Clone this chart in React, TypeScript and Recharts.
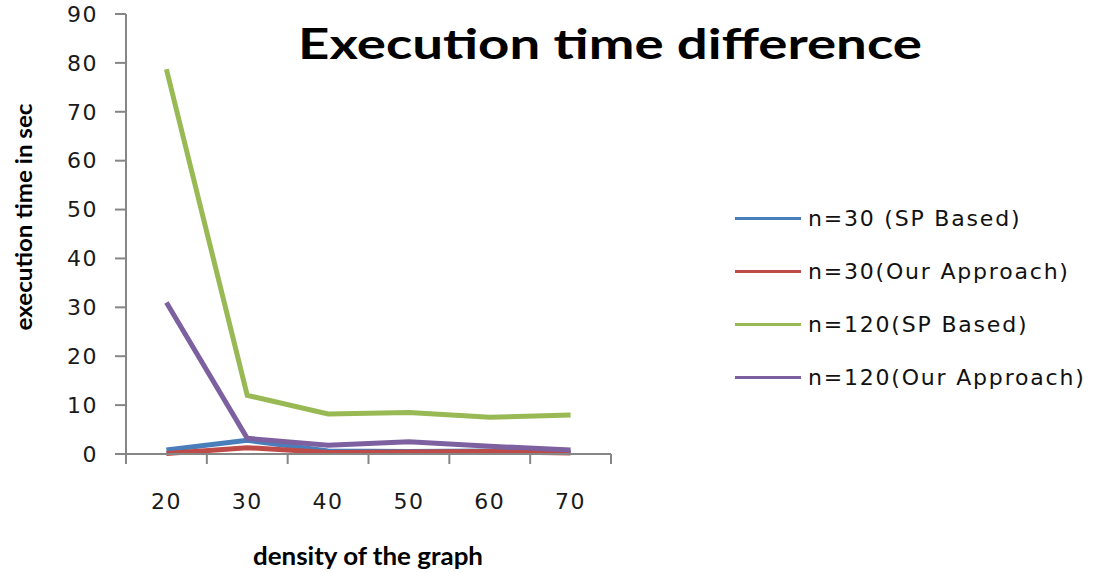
import { LineChart, Line, XAxis, YAxis } from 'recharts';

const densities = [20, 30, 40, 50, 60, 70];
const n30SpBased = [0.8, 2.8, 0.6, 0.5, 0.6, 0.3];
const n30OurApproach = [0.1, 1.3, 0.3, 0.4, 0.5, 0.2];
const n120SpBased = [78.7, 12, 8.2, 8.5, 7.5, 8.0];
const n120OurApproach = [31, 3.2, 1.8, 2.5, 1.6, 0.8];

const yTicks = [0, 10, 20, 30, 40, 50, 60, 70, 80, 90];
const xBoundaryTicks = [15, 25, 35, 45, 55, 65, 75];

const SERIES = [
  { key: 'n30sp', name: 'n=30 (SP Based)', color: '#4a7ebb', values: n30SpBased },
  { key: 'n30our', name: 'n=30(Our Approach)', color: '#be4b48', values: n30OurApproach },
  { key: 'n120sp', name: 'n=120(SP Based)', color: '#98b954', values: n120SpBased },
  { key: 'n120our', name: 'n=120(Our Approach)', color: '#7d60a0', values: n120OurApproach },
];

const data = densities.map((d, i) => {
  const row: any = { density: d };
  SERIES.forEach((s) => {
    row[s.key] = s.values[i];
  });
  return row;
});

const AXIS_COLOR = '#868686';
const TICK_FONT = { fontFamily: 'DejaVu Sans', fontSize: 22, fill: '#1a1a1a', letterSpacing: 1.5 };
const TITLE_FONT = 'Lato, "Open Sans", sans-serif';

function ChartLegend() {
  return (
    <div style={{ position: 'absolute', left: 735, top: 192 }}>
      {SERIES.map((s) => (
        <div
          key={s.key}
          style={{
            display: 'flex',
            alignItems: 'center',
            height: 53,
            fontFamily: 'DejaVu Sans',
            fontSize: 22,
            letterSpacing: 1.8,
            color: '#111',
            whiteSpace: 'nowrap',
          }}
        >
          <div style={{ width: 66, height: 3, background: s.color, marginRight: 7 }} />
          <span>{s.name}</span>
        </div>
      ))}
    </div>
  );
}

export default function App() {
  return (
    <div style={{ position: 'absolute', left: 0, top: 0, width: 1101, height: 573, background: '#fff' }}>
      <LineChart width={1101} height={573} data={data} margin={{ top: 14, right: 490, bottom: 0, left: 0 }}>
        <XAxis
          xAxisId={0}
          dataKey="density"
          type="number"
          domain={[15, 75]}
          ticks={xBoundaryTicks}
          stroke={AXIS_COLOR}
          strokeWidth={2}
          tickSize={10}
          tick={() => <g />}
          height={10}
        />
        <XAxis
          xAxisId="labels"
          dataKey="density"
          type="number"
          domain={[15, 75]}
          ticks={densities}
          axisLine={false}
          tickLine={false}
          tick={TICK_FONT}
          tickMargin={23}
          height={109}
          label={{
            content: () => (
              <text
                x={368}
                y={565}
                textAnchor="middle"
                textLength={230}
                lengthAdjust="spacingAndGlyphs"
                style={{ fontFamily: TITLE_FONT, fontWeight: 700, fontSize: 24, fill: '#000' }}
              >
                density of the graph
              </text>
            ),
          }}
        />
        <YAxis
          domain={[0, 90]}
          ticks={yTicks}
          interval={0}
          stroke={AXIS_COLOR}
          strokeWidth={2}
          tickSize={11}
          tickMargin={17}
          tick={TICK_FONT}
          width={126}
          label={{
            content: () => (
              <text
                x={32}
                y={217}
                transform="rotate(-90 32 217)"
                textAnchor="middle"
                textLength={227}
                lengthAdjust="spacingAndGlyphs"
                style={{ fontFamily: TITLE_FONT, fontWeight: 700, fontSize: 23, fill: '#000' }}
              >
                execution time in sec
              </text>
            ),
          }}
        />
        {SERIES.map((s) => (
          <Line
            key={s.key}
            xAxisId={0}
            dataKey={s.key}
            name={s.name}
            stroke={s.color}
            strokeWidth={5}
            dot={false}
            isAnimationActive={false}
          />
        ))}
      </LineChart>
      <div
        style={{
          position: 'absolute',
          left: 300,
          width: 620,
          top: 18,
          textAlign: 'center',
          fontFamily: TITLE_FONT,
          fontWeight: 700,
          fontSize: 42,
          color: '#000',
          transform: 'scaleX(1.3)',
        }}
      >
        Execution time difference
      </div>
      <ChartLegend />
    </div>
  );
}
